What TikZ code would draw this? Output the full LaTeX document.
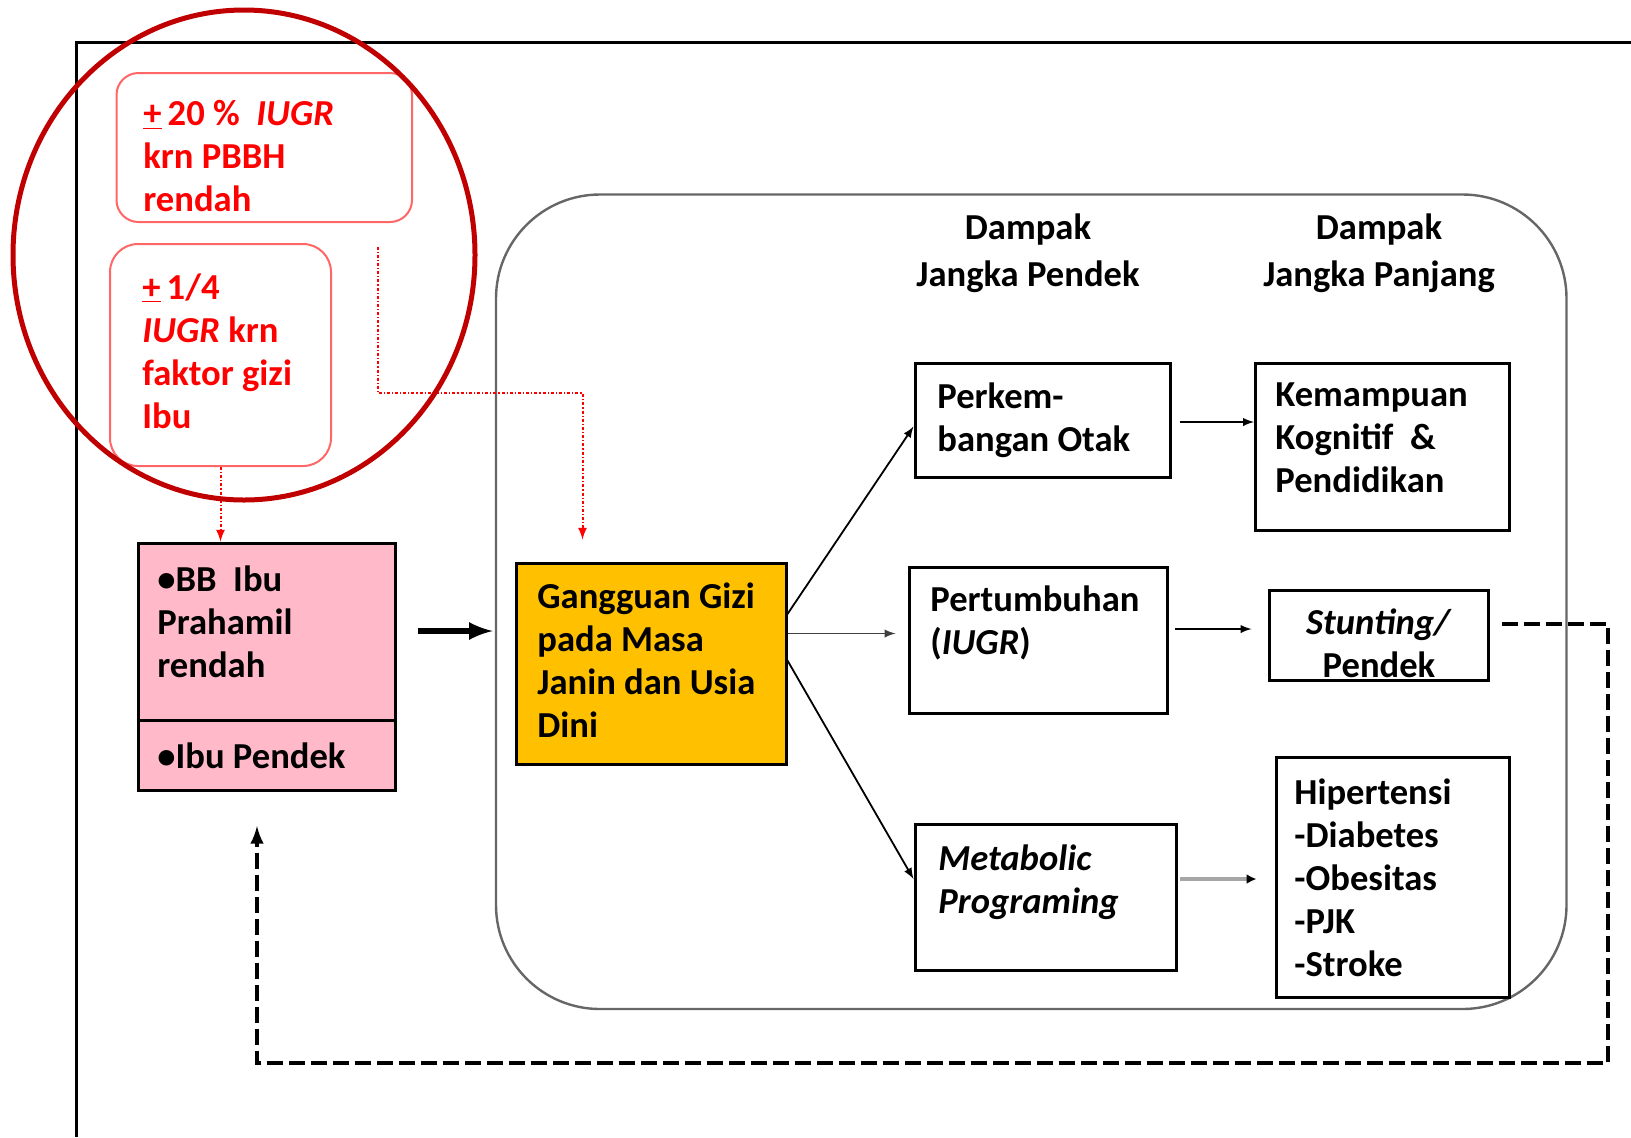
\documentclass[tikz,border=0pt]{standalone}
\usepackage{fontspec}
\setmainfont{Carlito}
\usetikzlibrary{fit,arrows.meta}
\definecolor{bbpink}{RGB}{255,185,201}
\definecolor{giziorange}{RGB}{255,192,0}
\definecolor{lingkarmerah}{RGB}{192,0,0}
\definecolor{garismerah}{RGB}{255,102,102}

\begin{document}
\begin{tikzpicture}[x=0.5pt, y=-0.5pt, >=latex,
    kotak/.style={draw, line width=1.5pt, inner sep=0pt},
    merah/.style={draw=garismerah, line width=1pt, inner sep=0pt},
    isi/.style={anchor=north west, inner sep=0pt, align=left, font=\fontsize{18.3}{21.5}\selectfont\bfseries},
    isimerah/.style={isi, text=red},
    judul/.style={anchor=north, inner sep=0pt, align=center, font=\fontsize{18.3}{23.5}\selectfont\bfseries},
    panah/.style={->, line width=0.9pt},
    titik/.style={->, red, line width=1pt, dash pattern=on 1.5pt off 1pt on 0.6pt off 1pt},
    balik/.style={->, line width=2pt, dash pattern=on 8pt off 3pt}]
\useasboundingbox (0,0) rectangle (1631,1137);
\draw[line width=1.5pt] (1631,42) -| (76,1137);

% kotak besar dampak
\node[fit={(496,194.5) (1566.5,1009)}, draw=black!60, line width=1.2pt, rounded corners=52pt, inner sep=0pt] (dampak) {};

% kotak merah (IUGR)
\node[merah, rounded corners=11pt, fit={(116.5,73) (412,222)}] (iugrA) {};
\node[merah, rounded corners=14pt, fit={(110,244) (331,466)}] (iugrB) {};
\node[isimerah] (tA) at (143,100) {\underline{+}\,20 \%\ \ \textit{IUGR}\\krn PBBH\\rendah};
\node[isimerah] (tB) at (142,273) {\underline{+}\,1/4\\\textit{IUGR} krn\\faktor gizi\\Ibu};

% ibu
\node[kotak, fill=bbpink, fit={(138,543) (395,790.5)}] (bb) {};
\draw[line width=1.5pt] (bb.west |- 0,720) -- (bb.east |- 0,720);
\node[isi] (tbb) at (157,565) {\textbullet BB\ \ Ibu\\Prahamil\\rendah};
\node[isi] (tpendek) at (157,742) {\textbullet Ibu Pendek};

\node[kotak, fill=giziorange, fit={(516,563) (786,764.5)}] (gizi) {};
\node[isi] (tgizi) at (537,582.5) {Gangguan Gizi\\pada Masa\\Janin dan Usia\\Dini};

% judul kolom
\node[judul] (jpendek) at (1028,213) {Dampak\\Jangka Pendek};
\node[judul] (jpanjang) at (1379,213) {Dampak\\Jangka Panjang};

% dampak
\node[kotak, fit={(915,363) (1170,477.5)}] (otak) {};
\node[kotak, fit={(1255.5,363) (1509,530.5)}] (kognitif) {};
\node[kotak, fit={(909,567) (1167,713.5)}] (tumbuh) {};
\node[kotak, fit={(1269,590) (1488.5,680)}] (stunting) {};
\node[kotak, fit={(915,824) (1176.5,970.5)}] (metab) {};
\node[kotak, fit={(1276,757) (1509,997.5)}] (ptm) {};

\node[isi] (totak) at (937,382) {Perkem-\\bangan Otak};
\node[isi] (tkognitif) at (1275,382) {Kemampuan\\Kognitif\ \ \&\\Pendidikan};
\node[isi] (ttumbuh) at (930,585.5) {Pertumbuhan\\(\textit{IUGR})};
\node[judul, font=\fontsize{18.3}{21.5}\selectfont\bfseries] (tstunting) at (1379,608.5) {\textit{Stunting/}\\Pendek};
\node[isi] (tmetab) at (938,844.5) {\textit{Metabolic}\\\textit{Programing}};
\node[isi] (tptm) at (1294,778) {Hipertensi\\-Diabetes\\-Obesitas\\-PJK\\-Stroke};

% panah
\draw[->, line width=3pt, shorten <=10.5pt, shorten >=1pt] (bb.east |- 0,631) -- (dampak.west |- 0,631);
\draw[panah] (gizi.east |- 0,614) -- (otak.west |- 0,426.5);
\draw[panah, draw=black!75, shorten >=6pt] (gizi.east |- 0,633.5) -- (tumbuh.west |- 0,633.5);
\draw[panah] (gizi.east |- 0,660.5) -- (metab.west |- 0,879);
\draw[panah, shorten <=4pt] (otak.east |- 0,422) -- (kognitif.west |- 0,422);
\draw[panah, shorten <=3pt, shorten >=8pt] (tumbuh.east |- 0,629) -- (stunting.west |- 0,629);
\draw[line width=2pt, black!35, -{Latex[color=black,length=5pt,width=5pt]}, shorten <=1pt, shorten >=9pt] (metab.east |- 0,879) -- (ptm.west |- 0,879);

% panah merah
\coordinate (belok) at (582.5,393);
\draw[titik] (iugrB.south) -- (iugrB.south |- bb.north);
\draw[titik, shorten >=11pt] ([xshift=-17.75pt,yshift=-11.75pt]iugrA.south east) |- (belok) -- (belok |- gizi.north);

% umpan balik
\coordinate (sudutkanan) at (1608,1063);
\coordinate (sudutkiri) at (257,1063);
\draw[balik, shorten <=6pt, shorten >=17pt] (stunting.east |- 0,624) -| (sudutkanan) -- (sudutkiri) -- (sudutkiri |- bb.south);

\draw[lingkarmerah, line width=2.5pt] (244,255) ellipse [x radius=115.5pt, y radius=122.5pt];
\end{tikzpicture}
\end{document}
